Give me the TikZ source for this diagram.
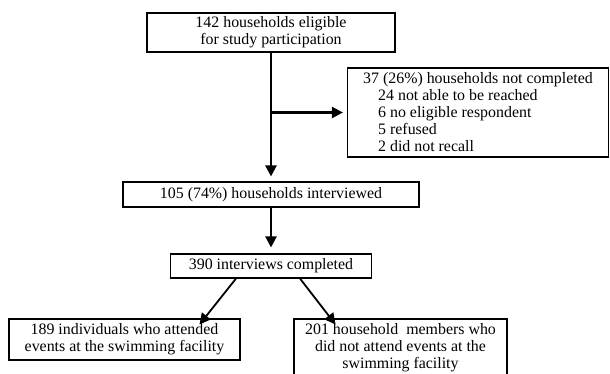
\documentclass[tikz,border=0pt]{standalone}
\usepackage{fontspec}
\setmainfont{Liberation Serif}
\usetikzlibrary{arrows.meta,calc}

\begin{document}
\begin{tikzpicture}[%
  x=1pt,y=-1pt,
  every node/.style={font=\fontsize{15.9}{17}\selectfont},
  stage/.style={rectangle,draw,line width=1.1pt,inner sep=0pt,align=center},
  flow/.style={line width=2.2pt,-{Triangle[length=11pt,width=11pt]}},
  split/.style={line width=1.8pt,-{Triangle[length=11pt,width=11pt]}}]
    \useasboundingbox (0,0) rectangle (610,374);
    % Households
    \node[stage,minimum width=248pt,minimum height=39pt] (eligible) at (271,32.5)
      {142 households eligible\\for study participation};
    \node[stage,align=left,minimum width=261pt,minimum height=89pt] (notdone) at (478,112.5)
      {37 (26\%) households not completed\\
       \hspace*{15pt}24 not able to be reached\\
       \hspace*{15pt}6 no eligible respondent\\
       \hspace*{15pt}5 refused\\
       \hspace*{15pt}2 did not recall};
    \node[stage,minimum width=296pt,minimum height=25pt] (interviewed) at (271,194.5)
      {105 (74\%) households interviewed};
    % Interviews
    \node[stage,minimum width=201pt,minimum height=24pt] (completed) at (271,266)
      {390 interviews completed};
    \node[stage,minimum width=231pt,minimum height=41pt] (attended) at (124.5,339.5)
      {189 individuals who attended\\events at the swimming facility};
    \node[stage,minimum width=213pt,minimum height=58pt] (notattended) at (400.5,348)
      {201 household\ \ members who\\did not attend events at the\\swimming facility};
    % Connectors
    \coordinate (branch) at (eligible.south |- notdone.west);
    \draw[flow,shorten >=5pt] (eligible.south) -- (eligible.south |- interviewed.north);
    \draw[flow,shorten >=4pt] (branch) -- (notdone.west);
    \draw[flow,shorten >=6pt] (interviewed.south) -- (completed.north);
    \draw[split] ([xshift=-35pt]completed.south) -- ([xshift=75pt,yshift=-6pt]attended.north);
    \draw[split] ([xshift=29pt]completed.south) -- ([xshift=-65pt,yshift=-6pt]notattended.north);
\end{tikzpicture}
\end{document}
